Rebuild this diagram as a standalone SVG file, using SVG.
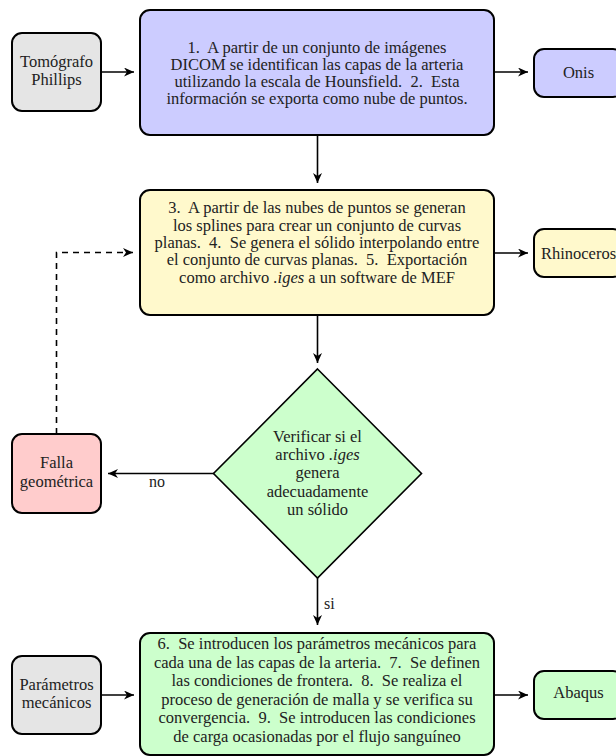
<svg xmlns="http://www.w3.org/2000/svg" width="616" height="756" viewBox="0 0 616 756">
<defs>
<style>
.box{stroke:#000;stroke-width:2}
.gray{fill:#e5e5e5}.blue{fill:#ccccff}.yellow{fill:#fff9cc}.red{fill:#ffcccc}.green{fill:#ccffcc}
.t{font-family:'Times New Roman','Liberation Serif',Times,'Nimbus Roman','Noto Serif','DejaVu Serif',FreeSerif,serif;font-size:16.5px;fill:#222;text-anchor:middle}
.lab{font-family:'Times New Roman','Liberation Serif',Times,'Nimbus Roman','Noto Serif','DejaVu Serif',FreeSerif,serif;font-size:16px;fill:#222}
.c{fill:none;stroke:#000;stroke-width:1.6}
.d{stroke-dasharray:6 5}
</style>
<marker id="ah" markerWidth="11" markerHeight="9" refX="10" refY="4.5" orient="auto" markerUnits="userSpaceOnUse">
<path d="M0,0 L10,4.5 L0,9 L3,4.5 z" fill="#000"/>
</marker>
</defs>
<g id="connectors">
<path class="c" d="M101,72 H134" marker-end="url(#ah)"/>
<path class="c" d="M494,72 H528" marker-end="url(#ah)"/>
<path class="c" d="M317.5,135 V183" marker-end="url(#ah)"/>
<path class="c" d="M494,253 H528" marker-end="url(#ah)"/>
<path class="c" d="M317.5,315 V363" marker-end="url(#ah)"/>
<path class="c" d="M214,473.5 H108" marker-end="url(#ah)"/>
<path class="c" d="M317.5,578 V625" marker-end="url(#ah)"/>
<path class="c" d="M101,695 H134" marker-end="url(#ah)"/>
<path class="c" d="M494,695 H528" marker-end="url(#ah)"/>
<path class="c d" d="M56.5,434 V252.5 H133" marker-end="url(#ah)"/>
<text class="lab" x="157" y="486.7" text-anchor="middle">no</text>
<text class="lab" x="324" y="609">si</text>
</g>
<g id="tomografo">
<rect class="box gray" x="12" y="33" width="89" height="78" rx="10"/>
<text class="t" x="56.5" y="66.7">Tomógrafo</text>
<text class="t" x="56.5" y="85">Phillips</text>
</g>
<g id="paso1">
<rect class="box blue" x="140" y="10" width="354" height="125" rx="10"/>
<text class="t" x="317" y="52.5">1.&#160; A partir de un conjunto de imágenes</text>
<text class="t" x="317" y="69.8">DICOM se identifican las capas de la arteria</text>
<text class="t" x="317" y="87.1">utilizando la escala de Hounsfield.&#160; 2.&#160; Esta</text>
<text class="t" x="317" y="104.4">información se exporta como nube de puntos.</text>
</g>
<g id="onis">
<rect class="box blue" x="534" y="49" width="89" height="48" rx="10"/>
<text class="t" x="578.5" y="78">Onis</text>
</g>
<g id="paso2">
<rect class="box yellow" x="140" y="190" width="354" height="125" rx="10"/>
<text class="t" x="317" y="213.3">3.&#160; A partir de las nubes de puntos se generan</text>
<text class="t" x="317" y="230.6">los splines para crear un conjunto de curvas</text>
<text class="t" x="317" y="247.9">planas.&#160; 4.&#160; Se genera el sólido interpolando entre</text>
<text class="t" x="317" y="265.2">el conjunto de curvas planas.&#160; 5.&#160; Exportación</text>
<text class="t" x="317" y="282.5">como archivo <tspan font-style="italic">.iges</tspan> a un software de MEF</text>
</g>
<g id="rhinoceros">
<rect class="box yellow" x="534" y="229" width="89" height="48" rx="10"/>
<text class="t" x="578.5" y="258.5">Rhinoceros</text>
</g>
<g id="verificar">
<polygon class="green" points="317.5,369 421.5,473.5 317.5,578 213.5,473.5" stroke="#000" stroke-width="1.6"/>
<text class="t" x="317.5" y="441.7">Verificar si el</text>
<text class="t" x="317.5" y="460">archivo <tspan font-style="italic">.iges</tspan></text>
<text class="t" x="317.5" y="478.3">genera</text>
<text class="t" x="317.5" y="496.6">adecuadamente</text>
<text class="t" x="317.5" y="515">un sólido</text>
</g>
<g id="falla">
<rect class="box red" x="12" y="434" width="89" height="79" rx="10"/>
<text class="t" x="56.5" y="468">Falla</text>
<text class="t" x="56.5" y="486.7">geométrica</text>
</g>
<g id="parametros">
<rect class="box gray" x="12" y="656" width="89" height="78" rx="10"/>
<text class="t" x="56.5" y="690">Parámetros</text>
<text class="t" x="56.5" y="708.3">mecánicos</text>
</g>
<g id="paso3">
<rect class="box green" x="140" y="633" width="354" height="122" rx="10"/>
<text class="t" x="317" y="649.3">6.&#160; Se introducen los parámetros mecánicos para</text>
<text class="t" x="317" y="667.8">cada una de las capas de la arteria.&#160; 7.&#160; Se definen</text>
<text class="t" x="317" y="686.3">las condiciones de frontera.&#160; 8.&#160; Se realiza el</text>
<text class="t" x="317" y="704.8">proceso de generación de malla y se verifica su</text>
<text class="t" x="317" y="723.3">convergencia.&#160; 9.&#160; Se introducen las condiciones</text>
<text class="t" x="317" y="741.8">de carga ocasionadas por el flujo sanguíneo</text>
</g>
<g id="abaqus">
<rect class="box green" x="534" y="671" width="89" height="48" rx="10"/>
<text class="t" x="578.5" y="698">Abaqus</text>
</g>
</svg>
